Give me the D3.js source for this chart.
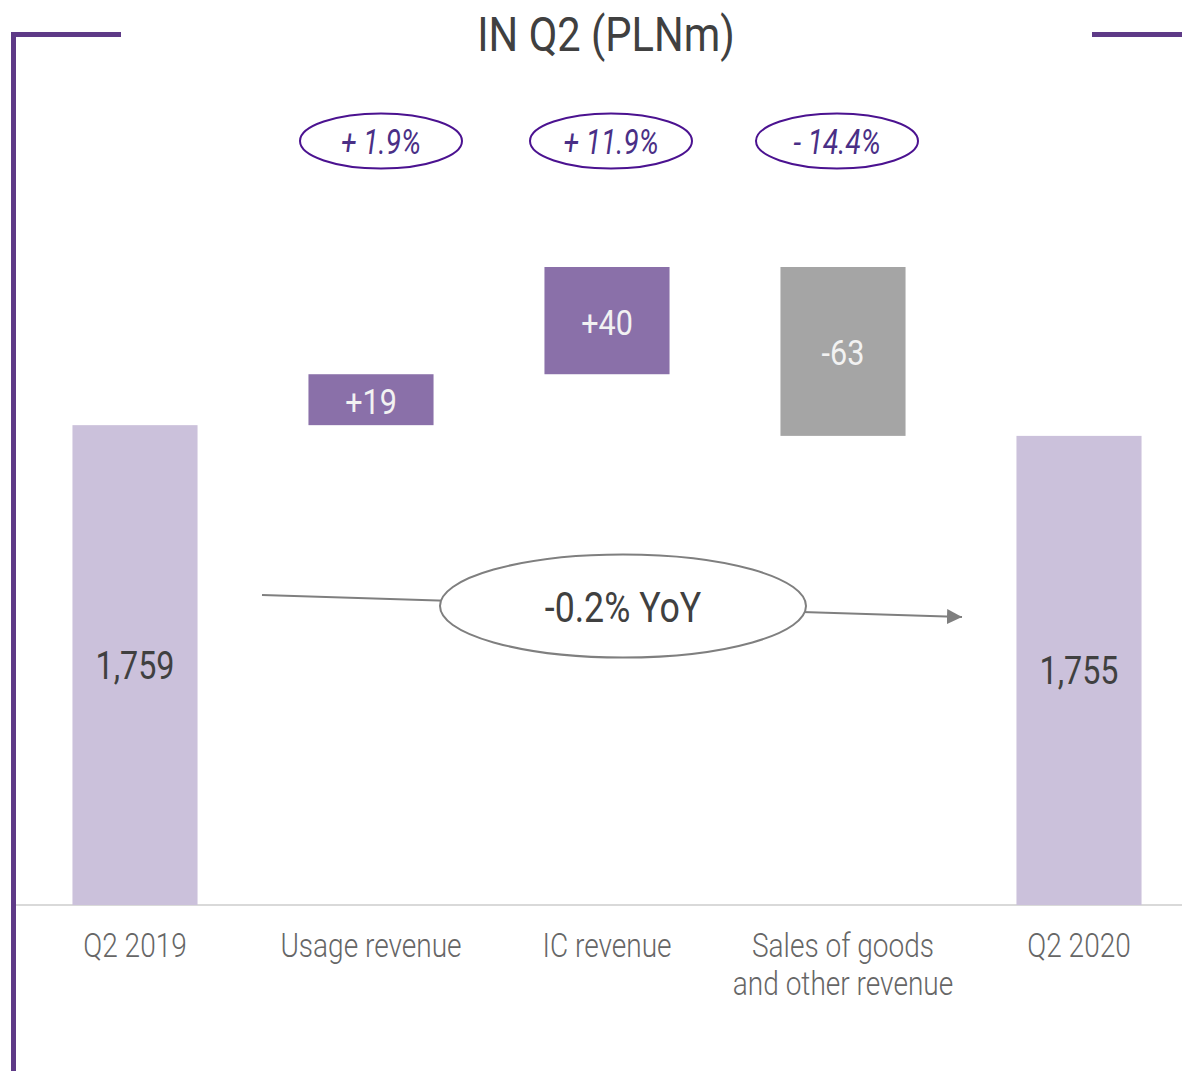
<!DOCTYPE html>
<html>
<head>
<meta charset="utf-8">
<script src="https://cdn.jsdelivr.net/npm/d3@7"></script>
<style>
  body { margin: 0; background: #fff; }
  svg text { font-family: Roboto, "Liberation Sans", sans-serif; }
</style>
</head>
<body>
<div class="viz"></div>
<script>
// chart data
const categories = ["Q2 2019", "Usage revenue", "IC revenue", "Sales of goods\nand other revenue", "Q2 2020"];
const values = [1759, 19, 40, -63, 1755];
const kinds = ["total", "delta", "delta", "delta", "total"];
const changes = [null, "+ 1.9%", "+ 11.9%", "- 14.4%", null];
const valueLabels = ["1,759", "+19", "+40", "-63", "1,755"];
const title = "IN Q2 (PLNm)";
const yoy = "-0.2% YoY";

const W = 1182, H = 1071;
const squeeze = 0.85; // fake condensed font

const svg = d3.select(".viz").append("svg")
  .attr("width", W).attr("height", H);

// compute waterfall steps
var run = 0;
var steps = values.map(function (v, i) {
  if (kinds[i] == "total") { run = v; return { i: i, lo: null, hi: v }; }
  var start = run; run = run + v;
  return { i: i, lo: Math.min(start, run), hi: Math.max(start, run) };
});

var x = d3.scaleBand()
  .domain(d3.range(categories.length))
  .range([17, 1197])
  .paddingInner(0.47)
  .paddingOuter(0.235);

// broken axis: totals start from a display floor
var y = d3.scaleLinear()
  .domain([1580, 1818])
  .range([905, 267]);

var colors = { total: "#cbc1db", up: "#8a70a9", down: "#a5a5a5" };

function label(g, cx, cy, txt, size, color, weight) {
  return g.append("text")
    .attr("transform", "translate(" + cx + "," + cy + ") scale(" + squeeze + ",1)")
    .attr("text-anchor", "middle")
    .attr("font-size", size)
    .attr("fill", color)
    .style("font-weight", weight || 300)
    .text(txt);
}

// frame lines
svg.append("path")
  .attr("d", "M13.5,1071 V34.5 H121")
  .attr("fill", "none").attr("stroke", "#5e3a87").attr("stroke-width", 5);
svg.append("line")
  .attr("x1", 1092).attr("x2", W).attr("y1", 34.5).attr("y2", 34.5)
  .attr("stroke", "#5e3a87").attr("stroke-width", 5);

label(svg, 606, 51, title, 49, "#404040", 400);

// baseline
svg.append("line")
  .attr("x1", 16).attr("x2", W)
  .attr("y1", y(1580)).attr("y2", y(1580))
  .attr("stroke", "#d9d9d9").attr("stroke-width", 2);

// bars
svg.append("g").selectAll("rect")
  .data(steps)
  .enter()
  .append("rect")
  .attr("x", d => x(d.i))
  .attr("width", x.bandwidth())
  .attr("y", d => y(d.hi))
  .attr("height", d => (d.lo == null ? y(1580) : y(d.lo)) - y(d.hi))
  .attr("fill", d => kinds[d.i] == "total" ? colors.total : (values[d.i] > 0 ? colors.up : colors.down));

// value labels
var vl = svg.append("g");
steps.forEach(function (d) {
  var top = y(d.hi), bot = d.lo == null ? y(1580) : y(d.lo);
  var isTotal = kinds[d.i] == "total";
  label(vl, x(d.i) + x.bandwidth() / 2, (top + bot) / 2 + 14, valueLabels[d.i],
    isTotal ? 38 : 36, isTotal ? "#404040" : "#f2f2f2", 400);
});

// category labels
var cl = svg.append("g");
categories.forEach(function (c, i) {
  c.split("\n").forEach(function (line, k) {
    label(cl, x(i) + x.bandwidth() / 2, 957 + k * 38, line, 33, "#666666", 300);
  });
});

// change bubbles
var bub = svg.append("g");
changes.forEach(function (c, i) {
  if (!c) return;
  var cx = x(i) + x.bandwidth() / 2 + [0, 10, 4, -6, 0][i];
  bub.append("ellipse")
    .attr("cx", cx).attr("cy", 141)
    .attr("rx", 81).attr("ry", 27.5)
    .attr("fill", "none").attr("stroke", "#4b1290").attr("stroke-width", 2);
  bub.append("text")
    .attr("transform", "translate(" + cx + ",154) scale(0.8,1)")
    .attr("text-anchor", "middle")
    .attr("font-size", 35)
    .attr("fill", "#4a2f86")
    .style("font-style", "italic")
    .style("font-weight", 400)
    .text(c);
});

// yoy arrow
svg.append("defs").append("marker")
  .attr("id", "arr").attr("viewBox", "0 0 10 10")
  .attr("refX", 10).attr("refY", 5)
  .attr("markerWidth", 15).attr("markerHeight", 15)
  .attr("markerUnits", "userSpaceOnUse")
  .attr("orient", "auto")
  .append("path").attr("d", "M0,0 L10,5 L0,10 z").attr("fill", "#7f7f7f");

svg.append("line")
  .attr("x1", 262).attr("y1", 595)
  .attr("x2", 962).attr("y2", 617)
  .attr("stroke", "#7f7f7f").attr("stroke-width", 2)
  .attr("marker-end", "url(#arr)");

svg.append("ellipse")
  .attr("cx", 623).attr("cy", 606)
  .attr("rx", 183).attr("ry", 51.5)
  .attr("fill", "#fff").attr("stroke", "#7f7f7f").attr("stroke-width", 2);
label(svg, 623, 622, yoy, 42, "#404040", 400);
</script>
</body>
</html>
